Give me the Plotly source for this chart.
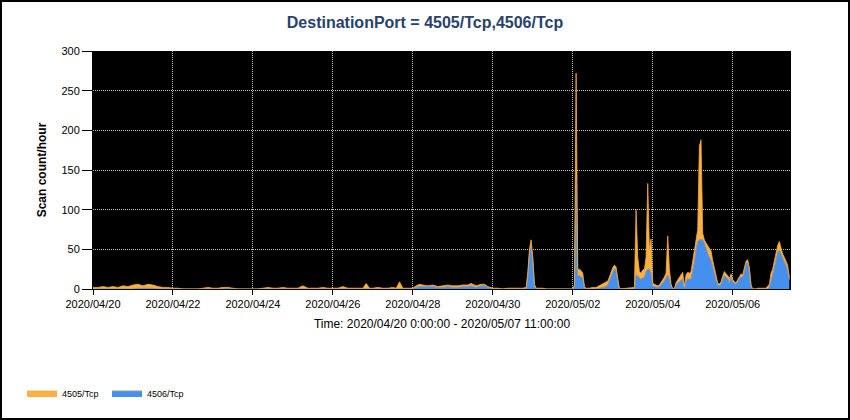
import pandas as pd
import plotly.graph_objects as go

# hourly scan counts (hour offset from 2020/04/20 0:00)
start = "2020-04-20 00:00"
hours = [
    0, 3, 6, 9, 12, 15, 18, 21,                      # 04/20
    24, 27, 30, 33, 36, 39, 42, 45,                  # 04/21
    48, 51, 54, 57, 60, 63, 66, 69,                  # 04/22
    72, 75, 78, 81, 84, 87, 90, 93,                  # 04/23
    96, 99, 102, 105, 108, 111, 114, 117,            # 04/24
    120, 123, 126, 129, 132, 135, 138, 141,          # 04/25
    144, 147, 150, 153, 156, 159, 162, 164, 166,     # 04/26
    168, 171, 174, 177, 180, 182, 184, 186, 189,     # 04/27
    192, 194, 196, 198, 201, 204, 207, 210, 213,     # 04/28
    216, 219, 222, 225, 227, 230, 233, 235, 237,     # 04/29
    240, 243, 246, 249, 252, 255, 258, 260, 261, 262, 263, 264, 265, 266, 268, 270, 272,  # 04/30
    288, 289, 290, 291, 292, 293, 294, 295, 296, 298, 300, 302, 304, 306, 307, 308, 309,
    310, 311, 312, 313, 314, 315, 316,               # 05/02
    325, 326, 327, 328, 329, 330, 331, 332, 333, 334, 335,  # 05/03
    336, 337, 338, 339, 340, 341, 342, 343, 344, 345, 346, 347, 348, 349, 350, 351, 352,
    353, 354, 355, 356, 357, 358, 359,               # 05/04
    360, 361, 362, 363, 364, 365, 366, 367, 368, 369, 370, 371, 372, 373, 374, 375, 376,
    377, 378, 379, 380, 381, 382, 383,               # 05/05
    384, 385, 386, 387, 388, 389, 390, 391, 392, 393, 394, 395, 396, 398, 399, 404, 405,
    406, 407,                                        # 05/06
    408, 409, 410, 411, 412, 413, 414, 415, 416, 417, 418,  # 05/07
]
tcp4505 = [
    2, 2, 3, 2, 3, 2, 4, 3,
    5, 5, 3, 5, 4, 3, 2, 2,
    1, 1, 0, 0, 0, 0, 1, 2,
    1, 1, 2, 1, 1, 0, 0, 0,
    0, 0, 1, 2, 1, 1, 2, 1,
    1, 1, 4, 1, 1, 1, 2, 1,
    1, 1, 3, 1, 1, 1, 1, 7, 1,
    1, 2, 1, 1, 2, 1, 9, 1, 1,
    1, 2, 3, 2, 1, 2, 1, 2, 2,
    2, 2, 2, 2, 3, 2, 2, 2, 1,
    1, 1, 0, 1, 1, 1, 1, 2, 4, 6, 8, 4, 2, 1, 1, 1, 0,
    0, 3, 132, 8, 8, 8, 6, 2, 1, 1, 2, 2, 3, 4, 6, 5, 5,
    5, 5, 5, 4, 4, 3, 0,
    2, 82, 24, 8, 8, 10, 10, 18, 108, 25, 43,
    4, 3, 2, 2, 2, 3, 4, 5, 6, 49, 13, 2, 0, 0, 3, 5, 5,
    6, 8, 1, 8, 8, 8, 9,
    13, 16, 12, 15, 118, 126, 8, 4, 8, 10, 12, 12, 8, 6, 4, 3, 2,
    3, 4, 5, 4, 4, 5, 3,
    3, 2, 2, 3, 3, 4, 3, 3, 3, 3, 3, 2, 0, 0, 1, 1, 3,
    4, 8,
    7, 8, 7, 9, 11, 6, 6, 6, 6, 5, 3,
]
tcp4506 = [
    0, 0, 0, 0, 0, 0, 0, 0,
    0, 1, 1, 1, 1, 0, 0, 0,
    0, 0, 0, 0, 0, 0, 0, 0,
    0, 0, 0, 1, 0, 0, 0, 0,
    0, 0, 0, 0, 0, 0, 0, 0,
    0, 0, 0, 0, 0, 0, 0, 0,
    0, 0, 0, 0, 0, 0, 0, 0, 0,
    0, 0, 0, 0, 0, 0, 0, 0, 0,
    0, 2, 3, 3, 3, 3, 2, 2, 3,
    2, 2, 3, 3, 4, 2, 4, 4, 2,
    0, 0, 0, 0, 0, 0, 0, 0, 16, 44, 54, 36, 4, 0, 0, 0, 0,
    0, 2, 140, 16, 17, 15, 14, 1, 0, 0, 0, 0, 1, 2, 2, 3, 5,
    10, 17, 22, 26, 24, 9, 0,
    0, 18, 16, 14, 12, 14, 15, 22, 25, 25, 20,
    4, 3, 3, 2, 3, 5, 8, 10, 14, 18, 12, 4, 0, 0, 5, 7, 9,
    12, 13, 2, 10, 13, 12, 13,
    22, 34, 50, 60, 62, 62, 62, 58, 50, 45, 40, 36, 28, 20, 11, 5, 4,
    6, 12, 17, 15, 13, 8, 16,
    9, 7, 6, 9, 14, 15, 15, 22, 32, 34, 24, 3, 0, 0, 0, 0, 0,
    2, 12,
    18, 27, 38, 46, 49, 44, 38, 34, 30, 25, 12,
]
assert len(hours) == len(tcp4505) == len(tcp4506)

times = pd.Timestamp(start) + pd.to_timedelta(hours, unit="h")

fig = go.Figure()
fig.add_trace(go.Scatter(x=times, y=tcp4506, name="4506/Tcp", mode="lines",
                         stackgroup="one", fillcolor="#4590EE",
                         line=dict(color="#9a9a9a", width=1)))
fig.add_trace(go.Scatter(x=times, y=tcp4505, name="4505/Tcp", mode="lines",
                         stackgroup="one", fillcolor="#FAB042",
                         line=dict(color="#F5A93A", width=0.8)))

W, H = 850, 420
ml, mr, mt, mb = 93, 59, 51, 131
pw, ph = W - ml - mr, H - mt - mb

fig.update_layout(
    width=W, height=H,
    margin=dict(l=ml, r=mr, t=mt, b=mb, autoexpand=False),
    paper_bgcolor="white",
    plot_bgcolor="black",
    font=dict(family="Liberation Sans, Arial, sans-serif", size=11, color="black"),
    title=dict(text="<b>DestinationPort = 4505/Tcp,4506/Tcp</b>", x=0.5, xanchor="center",
               y=1 - 22 / H, yanchor="middle",
               font=dict(size=16, color="#27436a")),
    showlegend=True,
    legend=dict(orientation="h", x=(22 - ml) / pw, y=-(393 - mt - ph) / ph,
                xanchor="left", yanchor="middle", traceorder="reversed",
                entrywidth=40, entrywidthmode="pixels",
                font=dict(size=9), bgcolor="rgba(0,0,0,0)"),
    shapes=[dict(type="rect", xref="paper", yref="paper",
                 x0=-(ml - 1) / pw, x1=(W - ml - 1) / pw,
                 y0=-(mb - 1) / ph, y1=(H - mb - 1) / ph,
                 line=dict(color="black", width=2), layer="above")],
)
fig.update_xaxes(
    type="date",
    range=["2020-04-20 00:00", "2020-05-07 11:00"],
    tick0="2020-04-20", dtick=2 * 86400000, tickformat="%Y/%m/%d",
    ticks="outside", ticklen=5, tickcolor="black",
    showline=True, linecolor="black",
    showgrid=True, gridcolor="#c4c4c4", griddash="1px,1px", gridwidth=1,
    title=dict(text="Time: 2020/04/20 0:00:00 - 2020/05/07 11:00:00",
               font=dict(size=12), standoff=10),
)
fig.update_yaxes(
    range=[0, 300], dtick=50,
    ticks="outside", ticklen=10, tickcolor="black",
    showline=True, linecolor="black",
    showgrid=True, gridcolor="#c4c4c4", griddash="1px,1px", gridwidth=1,
    zeroline=False,
    title=dict(text="<b>Scan count/hour</b>", font=dict(size=12), standoff=12),
)

# no page margin so the figure sits at the window's top-left corner
fig.write_html("out.html", config={"displayModeBar": False},
               post_script="document.body.style.margin='0';")
